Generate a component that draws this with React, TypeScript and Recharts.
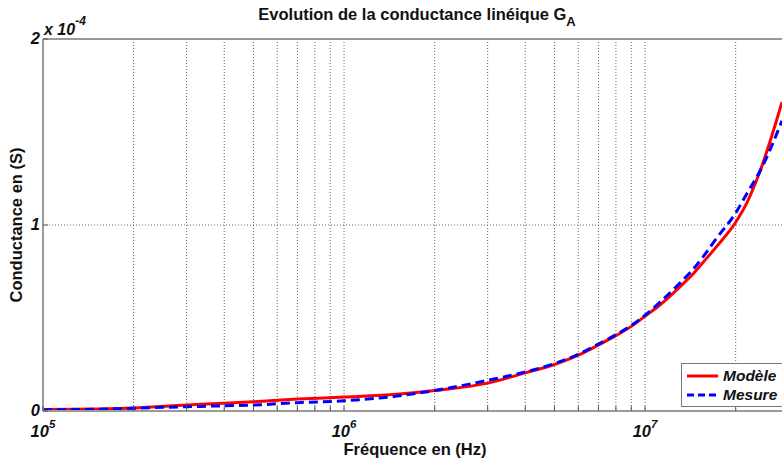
import React from 'react';
import { LineChart, Line, XAxis, YAxis, CartesianGrid, ReferenceLine } from 'recharts';

const frequencies = [1e5, 1.5e5, 2e5, 3e5, 4e5, 5e5, 7e5, 1e6, 1.5e6, 2e6, 3e6, 4e6, 5e6, 6e6, 7e6, 8e6, 9e6, 1e7, 1.12e7, 1.31e7, 1.44e7, 1.56e7, 1.73e7, 2e7, 2.18e7, 2.41e7, 2.85e7];
const modele = [0.008, 0.011, 0.016, 0.032, 0.042, 0.05, 0.064, 0.075, 0.09, 0.11, 0.15, 0.205, 0.25, 0.3, 0.355, 0.405, 0.455, 0.51, 0.57, 0.67, 0.735, 0.8, 0.885, 1.015, 1.12, 1.29, 1.66];
const mesure = [0.006, 0.009, 0.015, 0.023, 0.028, 0.032, 0.045, 0.055, 0.08, 0.11, 0.165, 0.21, 0.255, 0.305, 0.36, 0.41, 0.46, 0.515, 0.585, 0.69, 0.76, 0.83, 0.93, 1.065, 1.17, 1.29, 1.56];

const xTicks = [1e5, 2e5, 3e5, 4e5, 5e5, 6e5, 7e5, 8e5, 9e5, 1e6, 2e6, 3e6, 4e6, 5e6, 6e6, 7e6, 8e6, 9e6, 1e7, 2e7];
const xMajor: Record<number, string> = { 100000: '5', 1000000: '6', 10000000: '7' };
const yTicks = [0, 1, 2];
const seriesNames = ['Modèle', 'Mesure'];

const data = frequencies.map((f, i) => ({ f, modele: modele[i], mesure: mesure[i] }));

const FONT = '"Liberation Sans", Arial, sans-serif';
const AXIS = '#9a9a9a';

const XTick = (props: any) => {
  const { x, y, payload } = props;
  const exp = xMajor[payload.value];
  return (
    <g>
      <line x1={x} y1={y} x2={x} y2={y - 5} stroke="#555" strokeWidth={1} />
      {exp && (
        <text x={x} y={y + 26} textAnchor="middle" fontFamily={FONT} fontWeight="bold" fontStyle="italic" fontSize={16.5} fill="#111">
          10<tspan dy={-9} fontSize={11.5}>{exp}</tspan>
        </text>
      )}
    </g>
  );
};

const YTick = (props: any) => {
  const { x, y, payload } = props;
  return (
    <g>
      <line x1={x} y1={y} x2={x + 5} y2={y} stroke="#555" strokeWidth={1} />
      <text x={x - 3} y={y + 5} textAnchor="end" fontFamily={FONT} fontWeight="bold" fontStyle="italic" fontSize={16.5} fill="#111">
        {payload.value}
      </text>
    </g>
  );
};

const LegendBox = () => (
  <div style={{ position: 'absolute', left: 681, top: 363, border: '1px solid #777', background: '#fff', width: 110, height: 44, fontFamily: FONT, fontWeight: 'bold', fontStyle: 'italic', fontSize: 15.5, color: '#111', boxSizing: 'border-box', paddingTop: 2 }}>
    <div style={{ display: 'flex', alignItems: 'center', height: 19 }}>
      <svg width={36} height={10} style={{ marginLeft: 5 }}><line x1={0} y1={5} x2={31} y2={5} stroke="#ff0000" strokeWidth={3} /></svg>
      <span>{seriesNames[0]}</span>
    </div>
    <div style={{ display: 'flex', alignItems: 'center', height: 19 }}>
      <svg width={36} height={10} style={{ marginLeft: 5 }}><line x1={0} y1={5} x2={31} y2={5} stroke="#0000ff" strokeWidth={3} strokeDasharray="7 4" /></svg>
      <span>{seriesNames[1]}</span>
    </div>
  </div>
);

export default function App() {
  return (
    <div style={{ position: 'absolute', left: 0, top: 0, width: 782, height: 461, background: '#fff', overflow: 'hidden' }}>
      <LineChart width={782} height={461} data={data} margin={{ top: 39, right: 0, left: 42, bottom: 49 }}>
        <CartesianGrid stroke="#666" strokeDasharray="1 2" horizontal={true} vertical={true} horizontalValues={[1]} verticalValues={xTicks.slice(1)} />
        <XAxis
          dataKey="f"
          type="number"
          scale="log"
          domain={[1e5, 2.85e7]}
          allowDataOverflow
          ticks={xTicks}
          interval={0}
          height={1}
          tickSize={0}
          tickMargin={0}
          tickLine={false}
          tick={<XTick />}
          axisLine={{ stroke: AXIS, strokeWidth: 2 }}
        />
        <YAxis
          type="number"
          domain={[0, 2]}
          ticks={yTicks}
          interval={0}
          width={1}
          tickSize={0}
          tickMargin={0}
          tickLine={false}
          tick={<YTick />}
          axisLine={{ stroke: AXIS, strokeWidth: 2 }}
        />
        <ReferenceLine y={2} stroke={AXIS} strokeWidth={2} />
        <Line type="monotone" dataKey="modele" name={seriesNames[0]} stroke="#ff0000" strokeWidth={3} dot={false} isAnimationActive={false} />
        <Line type="monotone" dataKey="mesure" name={seriesNames[1]} stroke="#0000ff" strokeWidth={3} strokeDasharray="9 5" dot={false} isAnimationActive={false} />
        <text x={417} y={20} textAnchor="middle" fontFamily={FONT} fontWeight="bold" fontSize={16.5} fill="#111">
          Evolution de la conductance linéique G<tspan dy={6} fontSize={13}>A</tspan>
        </text>
        <text x={415} y={455} textAnchor="middle" fontFamily={FONT} fontWeight="bold" fontSize={16.5} fill="#111">
          Fréquence en (Hz)
        </text>
        <text x={22} y={225} transform="rotate(-90 22 225)" textAnchor="middle" fontFamily={FONT} fontWeight="bold" fontSize={16.5} fill="#111">
          Conductance en (S)
        </text>
        <text x={44} y={35} fontFamily={FONT} fontWeight="bold" fontStyle="italic" fontSize={16} fill="#111">
          x 10<tspan dy={-10} fontSize={12}>-4</tspan>
        </text>
      </LineChart>
      <LegendBox />
    </div>
  );
}
